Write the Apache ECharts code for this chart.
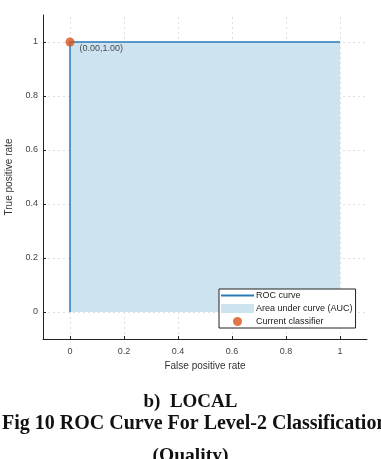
<!DOCTYPE html>
<html>
<head>
<meta charset="utf-8">
<script src="https://cdn.jsdelivr.net/npm/echarts@6/dist/echarts.min.js"></script>
<style>
  html, body { margin: 0; padding: 0; background: #fff; }
  #chart1 { width: 381px; height: 459px; }
</style>
</head>
<body>
<div id="chart1"></div>
<script>
// ROC points (false positive rate, true positive rate)
var rocX = [0, 0, 1];
var rocY = [0, 1, 1];
var classifier = [0, 1];
var aucText = 'AUC = 1.00';
var xTicks = [0, 0.2, 0.4, 0.6, 0.8, 1];

var dom = document.getElementById('chart1');
var myChart = echarts.init(dom);

var rocData = rocX.map(function (x, i) { return [x, rocY[i]]; });
var sans = 'Liberation Sans, Arial, sans-serif';
var serif = 'Liberation Serif, Times New Roman, serif';

myChart.setOption({
    animation: false,
    grid: { left: 43, right: 14, top: 15, bottom: 120, outerBoundsMode: 'none', containLabel: false },
    legend: {
        orient: 'vertical',
        left: 219,
        top: 289,
        itemWidth: 33,
        itemHeight: 9,
        itemGap: 4,
        padding: [2, 3, 2, 1],
        borderColor: '#222',
        borderWidth: 1,
        backgroundColor: '#fff',
        textStyle: { fontFamily: sans, fontSize: 9, color: '#222', padding: [0, 0, 0, -3] },
        data: [
            { name: 'ROC curve', itemStyle: { opacity: 0 } },
            { name: 'Area under curve (AUC)', icon: 'rect' },
            { name: 'Current classifier', icon: 'circle' }
        ]
    },
    xAxis: {
        type: 'value',
        min: -0.1,
        max: 1.1,
        name: 'False positive rate',
        nameLocation: 'middle',
        nameGap: 22,
        nameTextStyle: { fontFamily: sans, fontSize: 10, color: '#333' },
        axisLine: { onZero: false, lineStyle: { color: '#222' } },
        axisTick: { inside: true, length: 3, customValues: xTicks, lineStyle: { color: '#222' } },
        axisLabel: {
            customValues: xTicks,
            fontFamily: sans, fontSize: 9, color: '#444', margin: 8,
            formatter: function (v) { return String(v); }
        },
        splitLine: { show: false }
    },
    yAxis: {
        type: 'value',
        min: -0.1,
        max: 1.1,
        name: 'True positive rate',
        nameLocation: 'middle',
        nameGap: 29,
        nameTextStyle: { fontFamily: sans, fontSize: 10, color: '#333' },
        axisLine: { show: true, onZero: false, lineStyle: { color: '#222' } },
        axisTick: { show: true, inside: true, length: 3, customValues: xTicks, lineStyle: { color: '#222' } },
        axisLabel: {
            customValues: xTicks,
            fontFamily: sans, fontSize: 9, color: '#444', margin: 5,
            formatter: function (v) { return String(v); }
        },
        splitLine: { show: false }
    },
    series: [
        {
            // grid lines, kept under the filled area
            name: 'grid',
            type: 'line',
            data: [],
            silent: true,
            z: 0,
            markLine: {
                z: 0,
                silent: true,
                symbol: 'none',
                label: { show: false },
                lineStyle: { type: [2, 3], color: '#dedede', width: 1 },
                data: xTicks.map(function (t) { return { xAxis: t }; })
                    .concat(xTicks.map(function (t) { return { yAxis: t }; }))
            }
        },
        {
            name: 'Area under curve (AUC)',
            type: 'line',
            data: rocData,
            symbol: 'none',
            lineStyle: { width: 0 },
            itemStyle: { color: '#cde3f0' },
            areaStyle: { color: '#cde3f0', opacity: 1 },
            z: 2
        },
        {
            name: 'ROC curve',
            type: 'line',
            data: rocData,
            symbol: 'none',
            lineStyle: { width: 1.5, color: '#2a7ab8' },
            itemStyle: { color: '#2a7ab8' },
            markPoint: {
                symbol: 'none',
                label: { show: true, formatter: aucText, fontFamily: sans, fontSize: 9, color: '#222' },
                data: [{ coord: [0.5, 0.5] }]
            },
            z: 3
        },
        {
            name: 'Current classifier',
            type: 'scatter',
            data: [classifier],
            symbolSize: 9,
            itemStyle: { color: '#d95319' },
            label: {
                show: true,
                position: 'right',
                offset: [0, 7],
                formatter: '(0.00,1.00)',
                fontFamily: sans, fontSize: 9, color: '#222'
            },
            z: 5
        }
    ],
    graphic: [
        {
            type: 'text', left: 'center', top: 393,
            style: { text: 'b)  LOCAL', font: 'bold 19px ' + serif, fill: '#111' }
        },
        {
            type: 'text', left: 2, top: 414,
            style: { text: 'Fig 10 ROC Curve For Level-2 Classification', font: 'bold 20px ' + serif, fill: '#111' }
        },
        {
            type: 'text', left: 'center', top: 446,
            style: { text: '(Quality)', font: 'bold 19.5px ' + serif, fill: '#111' }
        }
    ]
});
</script>
</body>
</html>
